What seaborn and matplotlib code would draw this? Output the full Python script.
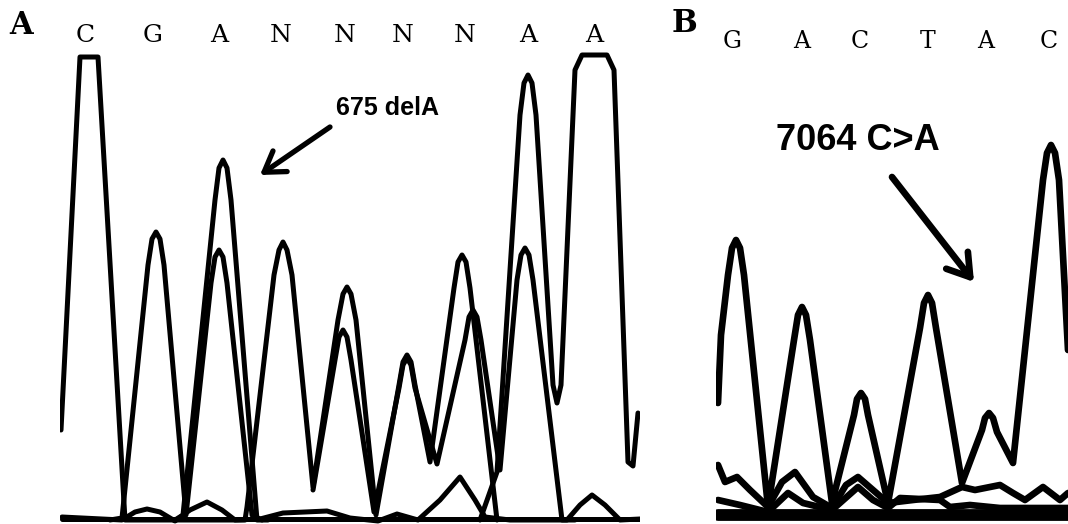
import pandas as pd
import seaborn as sns
import matplotlib.pyplot as plt

# Panel A: 675 delA, traces (scan position, signal)
a_trace1_scan = [1, 20, 38, 65, 185, 187, 214, 219, 223, 227, 232, 253, 278, 283, 287, 291, 296, 316,
                 339, 343, 347, 351, 355, 370, 394, 398, 402, 406, 410, 437]
a_trace1_sig = [90, 463, 463, 0, 0, 13, 245, 270, 278, 270, 245, 33, 200, 226, 233, 226, 200, 5,
                135, 158, 165, 158, 135, 58, 232, 258, 265, 258, 232, 0]
a_trace2_scan = [50, 62, 88, 92, 96, 100, 104, 126, 151, 155, 159, 163, 167, 192, 202]
a_trace2_sig = [0, 2, 255, 281, 288, 281, 255, 5, 237, 263, 270, 263, 237, 5, 0]
a_trace3_scan = [253, 275, 279, 283, 287, 291, 314, 339, 343, 347, 351, 355, 377,
                 405, 409, 413, 417, 421, 440, 457, 461, 465, 469, 473, 502, 515]
a_trace3_sig = [30, 160, 183, 190, 183, 160, 8, 132, 155, 162, 155, 132, 56,
                180, 203, 210, 203, 180, 50, 240, 265, 272, 265, 240, 0, 0]
a_trace4_scan = [115, 123, 155, 159, 163, 167, 171, 197, 208]
a_trace4_sig = [0, 5, 320, 352, 360, 352, 320, 0, 0]
a_trace5_scan = [420, 437, 460, 464, 468, 472, 476, 493, 497, 501, 515, 522, 547, 554, 568, 573, 578]
a_trace5_sig = [0, 48, 405, 437, 445, 437, 405, 135, 117, 135, 450, 465, 465, 450, 58, 54, 107]
a_small_scan = [2, 62, 75, 87, 100, 115, 130, 147, 162, 175, 200, 223, 267, 290, 318, 337, 358,
                380, 400, 415, 425, 450, 507, 520, 532, 545, 560, 580]
a_small_sig = [3, 0, 8, 11, 8, -1, 10, 18, 10, 0, 1, 7, 9, 2, -1, 6, 0,
               20, 43, 20, 3, 0, 0, 15, 25, 15, 0, 1]
a_bases = ["C", "G", "A", "N", "N", "N", "N", "A", "A"]
a_base_x = [85, 153, 219, 281, 345, 403, 465, 528, 594]

# Panel B: 7064 C>A
b_main_scan = [2, 5, 12, 16, 20, 24, 28, 52, 78, 82, 86, 90, 94, 116, 138, 141, 145, 149, 152, 172,
               204, 208, 212, 216, 220, 246, 266, 269, 273, 277, 281, 297, 327, 331, 335, 339, 343, 352]
b_main_sig = [117, 185, 245, 272, 280, 272, 245, 13, 180, 205, 213, 205, 180, 17, 105, 121, 127, 121, 105, 17,
              192, 217, 225, 217, 192, 37, 90, 102, 107, 102, 88, 57, 340, 367, 375, 367, 340, 170]
b_small1_scan = [2, 9, 21, 34, 52, 66, 79, 97, 116, 130, 142, 157, 172, 197, 224, 246, 259,
                 284, 297, 309, 327, 344, 352]
b_small1_sig = [55, 38, 43, 30, 13, 38, 48, 23, 12, 35, 43, 30, 17, 20, 23, 33, 30,
                35, 27, 20, 33, 20, 27]
b_small2_scan = [2, 24, 52, 72, 87, 116, 142, 157, 172, 184, 224, 234, 254, 284, 352]
b_small2_sig = [20, 15, 8, 27, 17, 10, 33, 20, 12, 22, 20, 13, 15, 12, 12]
b_bases = ["G", "A", "C", "T", "A", "C"]
b_base_x = [732, 802, 860, 928, 986, 1049]


def to_frame(traces):
    rows = []
    for name, (xs, ys) in traces.items():
        for x, y in zip(xs, ys):
            rows.append({"trace": name, "scan": x, "signal": y})
    return pd.DataFrame(rows)


df_a = to_frame({
    "t1": (a_trace1_scan, a_trace1_sig),
    "t2": (a_trace2_scan, a_trace2_sig),
    "t3": (a_trace3_scan, a_trace3_sig),
    "t4": (a_trace4_scan, a_trace4_sig),
    "t5": (a_trace5_scan, a_trace5_sig),
    "small": (a_small_scan, a_small_sig),
    "base": ([2, 580], [1, 1]),
})
df_b = to_frame({
    "main": (b_main_scan, b_main_sig),
    "s1": (b_small1_scan, b_small1_sig),
    "s2": (b_small2_scan, b_small2_sig),
})

sns.set_theme(style="white")
W, H = 1068, 524
fig = plt.figure(figsize=(W / 100, H / 100), dpi=100)
ax_a = fig.add_axes([60 / W, 0, 580 / W, 474 / H])
ax_b = fig.add_axes([716 / W, 0, 352 / W, 474 / H])

sns.lineplot(data=df_a, x="scan", y="signal", units="trace", estimator=None, sort=False,
             color="black", lw=3.6, ax=ax_a, solid_joinstyle="round", solid_capstyle="round")
sns.lineplot(data=df_b, x="scan", y="signal", units="trace", estimator=None, sort=False,
             color="black", lw=4.8, ax=ax_b, solid_joinstyle="round", solid_capstyle="round")
# thick noisy baseline in B
sns.lineplot(x=[2, 352], y=[5, 5], color="black", lw=8.5, ax=ax_b)

for ax, width in [(ax_a, 580), (ax_b, 352)]:
    ax.set_xlim(0, width)
    ax.set_ylim(-4, 470)
    ax.axis("off")

# panel letters and base calls
fig.text(21 / W, 1 - 26 / H, "A", family="DejaVu Serif", weight="bold", fontsize=22,
         ha="center", va="center", color="black")
fig.text(684 / W, 1 - 24 / H, "B", family="DejaVu Serif", weight="bold", fontsize=22,
         ha="center", va="center", color="black")
for b, x in zip(a_bases, a_base_x):
    fig.text(x / W, 1 - 35 / H, b, family="DejaVu Serif", fontsize=18, ha="center", va="center",
             color="black")
for b, x in zip(b_bases, b_base_x):
    fig.text(x / W, 1 - 42 / H, b, family="DejaVu Serif", fontsize=17, ha="center", va="center",
             color="black")

# mutation labels
ax_a.text(328, 412, "675 delA", family="Liberation Sans", weight="bold", fontsize=18,
          ha="center", va="center", color="black")
ax_a.annotate("", xy=(200, 345), xytext=(270, 393),
              arrowprops=dict(arrowstyle="->,head_length=0.7,head_width=0.45", lw=3.8,
                              color="black", mutation_scale=20, shrinkA=0, shrinkB=0))
ax_b.text(142, 380, "7064 C>A", family="Liberation Sans", weight="bold", fontsize=26,
          ha="center", va="center", color="black")
ax_b.annotate("", xy=(258, 238), xytext=(176, 343),
              arrowprops=dict(arrowstyle="->,head_length=0.7,head_width=0.45", lw=4.8,
                              color="black", mutation_scale=22, shrinkA=0, shrinkB=0))

fig.savefig("out.png", dpi=100)
